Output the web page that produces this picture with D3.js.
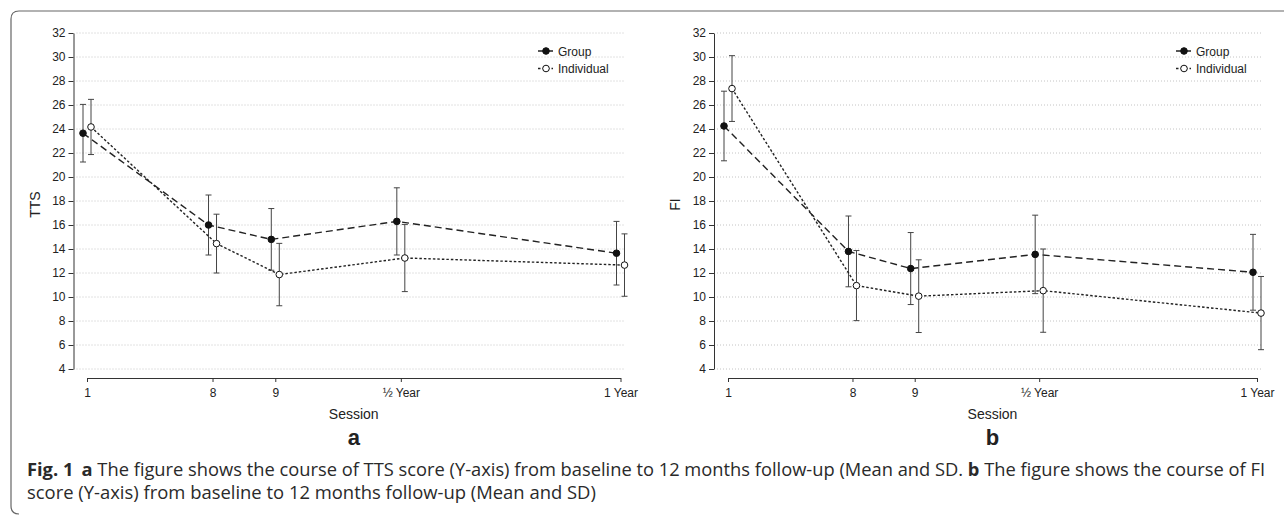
<!DOCTYPE html>
<html>
<head>
<meta charset="utf-8">
<script src="https://cdn.jsdelivr.net/npm/d3@7"></script>
<style>
    body { margin: 0; background: #fff; }
    svg { display: block; }
    text { font-family: 'Liberation Sans', Arial, sans-serif; fill: #222; }
</style>
</head>
<body>
<svg id="fig" width="1284" height="515"></svg>
<script>
// sessions on the x axis, t = relative spacing used by the original plot
const sessionLabels = ['1', '8', '9', '\u00BD Year', '1 Year'];
const sessionT = [0, 7, 10.5, 17.5, 29.75];

const yTicks = [4, 6, 8, 10, 12, 14, 16, 18, 20, 22, 24, 26, 28, 30, 32];

// panel a - TTS
const ttsGroupMean = [23.65, 16.0, 14.8, 16.3, 13.65];
const ttsGroupSd = [2.4, 2.5, 2.57, 2.8, 2.65];
const ttsIndMean = [24.17, 14.45, 11.87, 13.25, 12.66];
const ttsIndSd = [2.3, 2.45, 2.6, 2.8, 2.6];

// panel b - FI
const fiGroupMean = [24.25, 13.8, 12.37, 13.55, 12.06];
const fiGroupSd = [2.9, 2.95, 3.0, 3.27, 3.16];
const fiIndMean = [27.37, 10.95, 10.07, 10.53, 8.66];
const fiIndSd = [2.74, 2.92, 3.03, 3.47, 3.05];

const legendLabels = ['Group', 'Individual'];

const svg = d3.select('#fig');

// frame (top + left, rounded corners)
svg.append('path')
    .attr('d', 'M1284,11 H19 Q11,11 11,19 V506 Q11,514 19,514')
    .style('fill', 'none')
    .style('stroke', '#666')
    .style('stroke-width', 1.2);

const y = d3.scaleLinear().domain([4, 32]).range([369, 33]);

const drawPanel = (p) => {
    const g = svg.append('g');
    const x = d3.scaleLinear().domain([0, 29.75]).range(p.xr);

    // dotted grid
    g.selectAll('line.grid')
        .data(yTicks)
        .enter()
        .append('line')
        .attr('class', 'grid')
        .attr('x1', p.axisX + 3)
        .attr('x2', p.gridEnd)
        .attr('y1', d => y(d))
        .attr('y2', d => y(d))
        .style('stroke', '#c4c4c4')
        .style('stroke-width', 1)
        .style('stroke-dasharray', '1,2');

    const series = [
        { mean: p.groupMean, sd: p.groupSd, dx: -4, dash: '7,4', fill: '#111' },
        { mean: p.indMean, sd: p.indSd, dx: 4, dash: '2.5,2', fill: '#fff' }
    ];

    series.forEach(s => {
        const pts = s.mean.map((m, i) => ({ t: sessionT[i], m: m, sd: s.sd[i] }));

        // error bars
        g.selectAll(null)
            .data(pts)
            .enter()
            .append('path')
            .attr('d', d => {
                const cx = x(d.t) + s.dx;
                const top = y(d.m + d.sd), bot = y(d.m - d.sd);
                return `M${cx},${top}V${bot}M${cx - 3},${top}H${cx + 3}M${cx - 3},${bot}H${cx + 3}`;
            })
            .style('fill', 'none')
            .style('stroke', '#444')
            .style('stroke-width', 1);

        const line = d3.line()
            .x(d => x(d.t) + s.dx)
            .y(d => y(d.m));

        g.append('path')
            .attr('d', line(pts))
            .style('fill', 'none')
            .style('stroke', '#222')
            .style('stroke-width', 1.4)
            .style('stroke-dasharray', s.dash);

        g.selectAll(null)
            .data(pts)
            .enter()
            .append('circle')
            .attr('cx', d => x(d.t) + s.dx)
            .attr('cy', d => y(d.m))
            .attr('r', 3.3)
            .style('fill', s.fill)
            .style('stroke', '#111')
            .style('stroke-width', 1);
    });

    // y axis
    const yAxis = g.append('g')
        .attr('transform', `translate(${p.axisX},0)`)
        .call(d3.axisLeft(y).tickValues(yTicks).tickSize(5).tickSizeOuter(0).tickPadding(3));
    yAxis.selectAll('text').style('font-size', '12px').style('fill', '#222');
    yAxis.selectAll('line, path').style('stroke', '#333');

    // x axis
    const xAxis = g.append('g')
        .attr('transform', 'translate(0,378)')
        .call(d3.axisBottom(x)
            .tickValues(sessionT)
            .tickFormat((d, i) => sessionLabels[i])
            .tickSize(4)
            .tickSizeOuter(0)
            .tickPadding(6));
    xAxis.selectAll('text').style('font-size', '12px').style('fill', '#222');
    xAxis.selectAll('line, path').style('stroke', '#333');

    const midX = (p.xr[0] + p.xr[1]) / 2;

    g.append('text')
        .attr('x', midX)
        .attr('y', 419)
        .attr('text-anchor', 'middle')
        .style('font-size', '14px')
        .text('Session');

    g.append('text')
        .attr('transform', `translate(${p.axisX - 34},${y(17.7)}) rotate(-90)`)
        .attr('text-anchor', 'middle')
        .style('font-size', '14px')
        .text(p.yTitle);

    g.append('text')
        .attr('x', midX)
        .attr('y', 445)
        .attr('text-anchor', 'middle')
        .style('font-size', '22px')
        .style('font-weight', 'bold')
        .text(p.tag);

    // legend
    const lx = p.gridEnd - 86;
    legendLabels.forEach((lab, i) => {
        const ly = 51 + i * 17.5;
        g.append('line')
            .attr('x1', lx).attr('x2', lx + 15)
            .attr('y1', ly).attr('y2', ly)
            .style('stroke', '#222')
            .style('stroke-width', 1.4)
            .style('stroke-dasharray', series[i].dash);
        g.append('circle')
            .attr('cx', lx + 8).attr('cy', ly).attr('r', 3.3)
            .style('fill', series[i].fill)
            .style('stroke', '#111');
        g.append('text')
            .attr('x', lx + 20)
            .attr('y', ly + 4.5)
            .style('font-size', '12px')
            .text(lab);
    });
};

drawPanel({
    axisX: 73.5, xr: [87, 620.5], gridEnd: 624, yTitle: 'TTS', tag: 'a',
    groupMean: ttsGroupMean, groupSd: ttsGroupSd, indMean: ttsIndMean, indSd: ttsIndSd
});

drawPanel({
    axisX: 714, xr: [728, 1257], gridEnd: 1262, yTitle: 'FI', tag: 'b',
    groupMean: fiGroupMean, groupSd: fiGroupSd, indMean: fiIndMean, indSd: fiIndSd
});

// caption, humanist font squeezed to the original line width
const capFont = '"Open Sans", "Noto Sans", sans-serif';
const line1 = svg.append('text').attr('x', 27).attr('y', 476)
    .style('font-family', capFont).style('font-size', '18px').style('fill', '#2a2a2a');
line1.append('tspan').style('font-weight', 'bold').text('Fig. 1');
line1.append('tspan').style('font-weight', 'bold').attr('dx', 8).text('a');
line1.append('tspan').text(' The figure shows the course of TTS score (Y-axis) from baseline to 12 months follow-up (Mean and SD. ');
line1.append('tspan').style('font-weight', 'bold').text('b');
line1.append('tspan').text(' The figure shows the course of FI');

const line2 = svg.append('text').attr('x', 27).attr('y', 499)
    .style('font-family', capFont).style('font-size', '18px').style('fill', '#2a2a2a')
    .text('score (Y-axis) from baseline to 12 months follow-up (Mean and SD)');

const w1 = line1.node().getComputedTextLength();
const w2 = line2.node().getComputedTextLength();
const squeeze = 1238 / w1;
line1.attr('textLength', w1 * squeeze).attr('lengthAdjust', 'spacingAndGlyphs');
line2.attr('textLength', w2 * squeeze).attr('lengthAdjust', 'spacingAndGlyphs');
</script>
</body>
</html>
